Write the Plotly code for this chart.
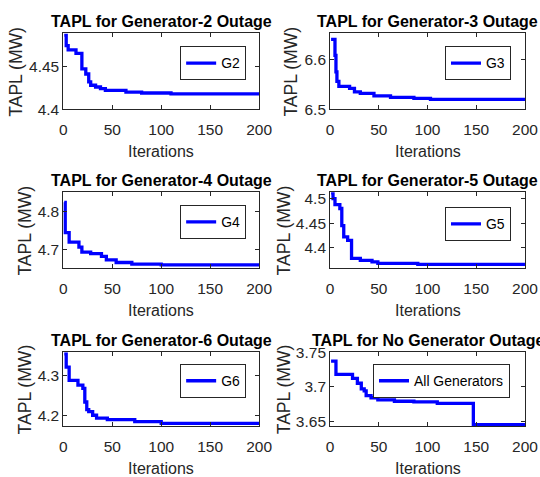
import plotly.graph_objects as go

# ---------------- data (breakpoints of the stair curves) ----------------
it_g2 = [1, 3, 5, 13, 19, 23, 26, 28, 33, 38, 43, 64, 80, 110, 200]
val_g2 = [4.486, 4.474, 4.469, 4.465, 4.447, 4.441, 4.432, 4.428, 4.426, 4.424, 4.422, 4.420, 4.419, 4.418, 4.418]

it_g3 = [1, 5, 6, 7, 9, 20, 25, 31, 45, 62, 86, 103, 200]
val_g3 = [6.640, 6.608, 6.575, 6.556, 6.546, 6.542, 6.535, 6.532, 6.527, 6.524, 6.522, 6.520, 6.520]

it_g4 = [1, 2, 6, 16, 19, 28, 39, 44, 54, 70, 100, 200]
val_g4 = [4.824, 4.745, 4.720, 4.707, 4.694, 4.690, 4.683, 4.674, 4.667, 4.663, 4.661, 4.661]

it_g5 = [1, 3, 5, 10, 12, 14, 18, 22, 31, 43, 49, 90, 200]
val_g5 = [4.512, 4.500, 4.488, 4.480, 4.445, 4.422, 4.415, 4.378, 4.374, 4.371, 4.368, 4.366, 4.366]

it_g6 = [1, 3, 6, 15, 20, 22, 24, 26, 30, 34, 45, 73, 100, 200]
val_g6 = [4.353, 4.320, 4.287, 4.275, 4.267, 4.233, 4.214, 4.209, 4.200, 4.193, 4.189, 4.184, 4.180, 4.180]

it_all = [1, 6, 20, 23, 28, 32, 35, 37, 42, 49, 66, 86, 110, 147, 200]
val_all = [3.737, 3.718, 3.718, 3.712, 3.705, 3.697, 3.694, 3.687, 3.684, 3.681, 3.679, 3.678, 3.676, 3.645, 3.645]

names = ["G2", "G3", "G4", "G5", "G6", "All Generators"]
titles = ["TAPL for Generator-2 Outage", "TAPL for Generator-3 Outage",
          "TAPL for Generator-4 Outage", "TAPL for Generator-5 Outage",
          "TAPL for Generator-6 Outage", "TAPL for No Generator Outage"]
y_ranges = [[4.4, 4.488], [6.5, 6.652], [4.652, 4.85], [4.358, 4.513], [4.173, 4.357], [3.643, 3.75]]
y_ticks = [[4.4, 4.45], [6.5, 6.6], [4.7, 4.8], [4.4, 4.45, 4.5], [4.2, 4.3], [3.65, 3.7, 3.75]]
y_ticktext = [["4.4", "4.45"], ["6.5", "6.6"], ["4.7", "4.8"], ["4.4", "4.45", "4.5"],
              ["4.2", "4.3"], ["3.65", "3.7", "3.75"]]
x_ticks = [0, 50, 100, 150, 200]
x_ticktext = ["0", "50", "100", "150", "200"]

series = [(it_g2, val_g2), (it_g3, val_g3), (it_g4, val_g4),
          (it_g5, val_g5), (it_g6, val_g6), (it_all, val_all)]

# ---------------- layout geometry ----------------
# target positions are given in photographed pixels; the photo showed the
# page slightly reduced, so positions and sizes are compensated here.
SX, OX = 0.97, 2.7
SY, OY = 0.966, 8.5
W, H = 556, 487
FS = 1 / 0.968          # font/size compensation


def px(x):
    return ((x - OX) / SX) / W


def py(y):
    return 1 - ((y - OY) / SY) / H


cols = [(62, 258), (329, 524)]
rows = [(33, 109), (192, 268), (352, 426)]
ylabel_x = [15, 290, 24, 283, 24, 283]
legend_box = [(245, 46), (510, 46), (245, 205), (510, 207), (245, 364), (509, 364)]

FONT = "Liberation Sans, Arial, Helvetica, sans-serif"
AX = "#262626"

fig = go.Figure()
layout = dict(width=W, height=H, margin=dict(l=0, r=0, t=0, b=0),
              paper_bgcolor="white", plot_bgcolor="white", showlegend=True,
              font=dict(family=FONT, color=AX), annotations=[])

for i, ((xs, ys), nm) in enumerate(zip(series, names)):
    r, c = divmod(i, 2)
    k = i + 1
    sfx = "" if k == 1 else str(k)
    leg = "legend" if k == 1 else f"legend{k}"
    fig.add_trace(go.Scatter(x=xs, y=ys, mode="lines", name=nm, showlegend=True,
                             line=dict(color="#0000FF", width=3.2 * FS, shape="hv"),
                             xaxis=f"x{sfx}", yaxis=f"y{sfx}", legend=leg))
    x0, x1 = cols[c]
    ytop, ybot = rows[r]
    layout[f"xaxis{sfx}"] = dict(
        domain=[px(x0), px(x1)], anchor=f"y{sfx}", range=[0, 200],
        tickvals=x_ticks, ticktext=x_ticktext, ticks="inside", ticklen=4,
        tickcolor=AX, showline=True, linecolor=AX, linewidth=1, mirror="ticks",
        showgrid=False, zeroline=False, tickfont=dict(size=15 * FS, color=AX),
        ticklabelstandoff=6)
    layout[f"yaxis{sfx}"] = dict(
        domain=[py(ybot), py(ytop)], anchor=f"x{sfx}", range=y_ranges[i],
        tickvals=y_ticks[i], ticktext=y_ticktext[i], ticks="inside", ticklen=4,
        tickcolor=AX, showline=True, linecolor=AX, linewidth=1, mirror="ticks",
        showgrid=False, zeroline=False, tickfont=dict(size=15 * FS, color=AX))
    lx, ly = legend_box[i]
    layout[leg] = dict(x=px(lx), y=py(ly), xanchor="right", yanchor="top",
                       xref="paper", yref="paper",
                       bgcolor="white", bordercolor=AX, borderwidth=1,
                       font=dict(size=13.5 * FS, color="black", family=FONT),
                       itemwidth=30, tracegroupgap=0)
    xc = (x0 + x1) / 2
    layout["annotations"] += [
        dict(text=f"<b>{titles[i]}</b>", x=px(xc), y=py(ytop - 12),
             xref="paper", yref="paper", showarrow=False, xanchor="center",
             yanchor="middle", font=dict(size=15.5 * FS, color="black", family=FONT)),
        dict(text="Iterations", x=px(xc), y=py(ybot + 42),
             xref="paper", yref="paper", showarrow=False, xanchor="center",
             yanchor="middle", font=dict(size=15.5 * FS, color=AX, family=FONT)),
        dict(text="TAPL (MW)", x=px(ylabel_x[i]), y=py((ytop + ybot) / 2),
             xref="paper", yref="paper", showarrow=False, xanchor="center",
             yanchor="middle", textangle=-90,
             font=dict(size=17 * FS, color=AX, family=FONT)),
    ]

fig.update_layout(**layout)
fig.write_html("out.html")
